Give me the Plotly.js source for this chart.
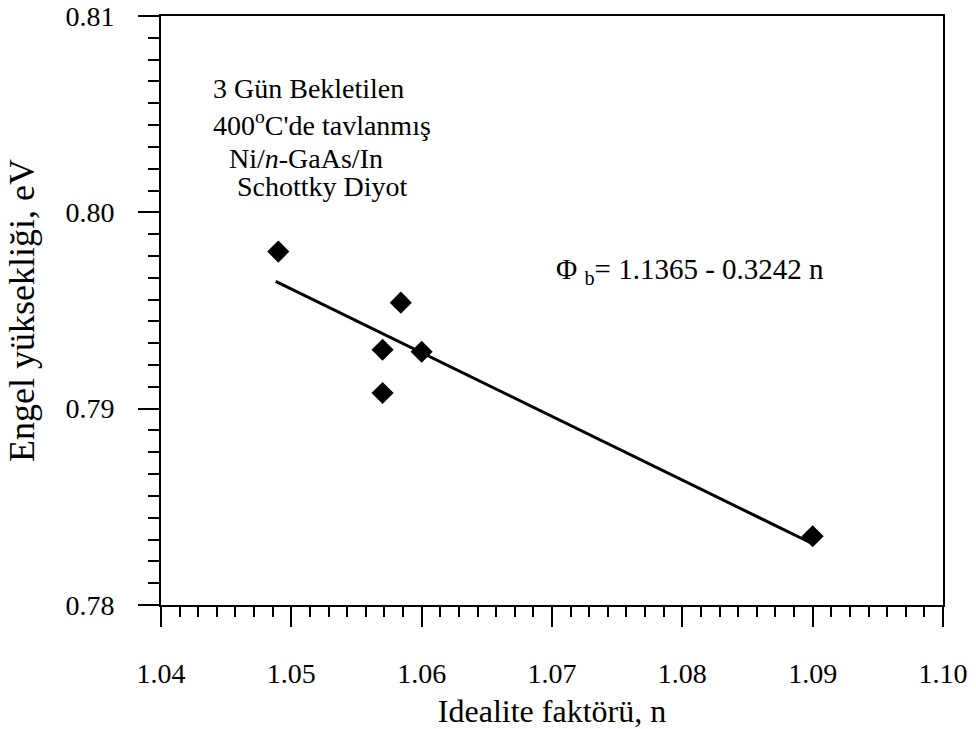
<!DOCTYPE html>
<html>
<head>
<meta charset="utf-8">
<script src="https://cdn.plot.ly/plotly-3.0.1.min.js"></script>
<style>html,body{margin:0;padding:0;background:#fff;}#chart{width:976px;height:729px;}</style>
</head>
<body>
<div id="chart"></div>
<script>
// Measured data points (ideality factor n, barrier height eV)
const idealityN = [1.0490, 1.0584, 1.0570, 1.0600, 1.0570, 1.0900];
const barrierHeight = [0.7980, 0.7954, 0.7930, 0.7929, 0.7908, 0.7835];
// Fit line endpoints (Φb = 1.1365 - 0.3242 n)
const fitN = [1.0488, 1.0900];
const fitPhi = [0.79648, 0.78312];
// Tick labels
const xTickVals = [1.04, 1.05, 1.06, 1.07, 1.08, 1.09, 1.10];
const xTickText = ['1.04', '1.05', '1.06', '1.07', '1.08', '1.09', '1.10'];
const yTickVals = [0.78, 0.79, 0.80, 0.81];
const yTickText = ['0.78', '0.79', '0.80', '0.81'];

const FONT = 'Liberation Serif, Times New Roman, serif';

const traces = [
  {
    x: fitN, y: fitPhi, type: 'scatter', mode: 'lines',
    line: {color: '#000', width: 3}, showlegend: false, hoverinfo: 'skip'
  },
  {
    x: idealityN, y: barrierHeight, type: 'scatter', mode: 'markers',
    marker: {symbol: 'diamond', size: 17, color: '#000'}, showlegend: false
  }
];

const W = 782, H = 589, L = 161, T = 16;
function px(x){ return (x - L) / W; }
function py(y){ return (T + H - y) / H; }

const annFont = {family: FONT, size: 28, color: '#000'};
const annotations = [
  {text: '3 Gün Bekletilen', x: px(211), y: py(88)},
  {text: '400<sup>o</sup>C\'de tavlanmış', x: px(211), y: py(124)},
  {text: 'Ni/<i>n</i>-GaAs/In', x: px(227), y: py(159)},
  {text: 'Schottky Diyot', x: px(235), y: py(187)},
  {text: 'Φ <sub>b</sub>= 1.1365 - 0.3242 n', x: px(554), y: py(271), font: {family: FONT, size: 29, color: '#000'}}
].map(a => Object.assign({xref: 'paper', yref: 'paper', xanchor: 'left', yanchor: 'middle', showarrow: false, font: annFont}, a));

const layout = {
  width: 976, height: 729,
  margin: {l: 161, r: 33, t: 16, b: 124},
  paper_bgcolor: '#fff', plot_bgcolor: '#fff',
  font: {family: FONT, color: '#000'},
  xaxis: {
    range: [1.04, 1.10], tickvals: xTickVals, ticktext: xTickText,
    ticks: 'outside', ticklen: 20, tickwidth: 2, tickcolor: '#000',
    showline: true, linewidth: 2, linecolor: '#000', mirror: true,
    showgrid: false, zeroline: false, ticklabelstandoff: 22,
    tickfont: {family: FONT, size: 28, color: '#000'},
    minor: {dtick: 0.01/7, tick0: 1.04, ticks: 'outside', ticklen: 10, tickwidth: 2, tickcolor: '#000', showgrid: false},
    title: {text: 'Idealite faktörü, n', font: {family: FONT, size: 32, color: '#000'}, standoff: 14}
  },
  yaxis: {
    range: [0.78, 0.81], tickvals: yTickVals, ticktext: yTickText,
    ticks: 'outside', ticklen: 21, tickwidth: 2, tickcolor: '#000',
    showline: true, linewidth: 2, linecolor: '#000', mirror: true,
    showgrid: false, zeroline: false, ticklabelstandoff: 18,
    tickfont: {family: FONT, size: 28, color: '#000'},
    minor: {dtick: 0.01/9, tick0: 0.78, ticks: 'outside', ticklen: 11, tickwidth: 2, tickcolor: '#000', showgrid: false},
    title: {text: 'Engel yüksekliği, eV', font: {family: FONT, size: 36, color: '#000'}, standoff: 20}
  },
  annotations: annotations
};

Plotly.newPlot('chart', traces, layout, {displayModeBar: false, staticPlot: true});
</script>
</body>
</html>
